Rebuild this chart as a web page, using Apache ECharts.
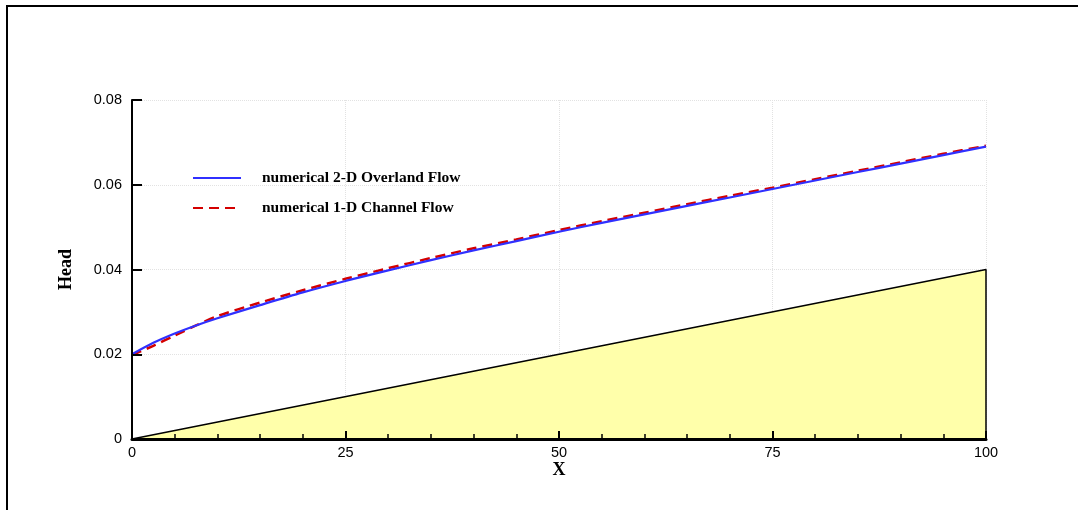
<!DOCTYPE html>
<html>
<head>
<meta charset="utf-8">
<script src="https://cdn.jsdelivr.net/npm/echarts@6/dist/echarts.min.js"></script>
<style>
html,body{margin:0;padding:0;background:#fff;}
#chart{width:1078px;height:510px;}
</style>
</head>
<body>
<div id="chart"></div>
<script>
// Data
const xValues = [0, 2.5, 5, 7.5, 10, 15, 20, 25, 30, 35, 40, 45, 50, 55, 60, 65, 70, 75, 80, 85, 90, 95, 100];
const overland2D = [0.0200, 0.0227, 0.0249, 0.0268, 0.0285, 0.0316, 0.0346, 0.0373, 0.0398, 0.0422, 0.0445, 0.0467, 0.0489, 0.0510, 0.0530, 0.0550, 0.0570, 0.0590, 0.0610, 0.0630, 0.0650, 0.0670, 0.0690];
const channel1D = [0.0198, 0.0220, 0.0244, 0.0268, 0.0290, 0.0322, 0.0351, 0.0378, 0.0403, 0.0427, 0.0450, 0.0471, 0.0493, 0.0514, 0.0534, 0.0554, 0.0574, 0.0593, 0.0613, 0.0633, 0.0653, 0.0673, 0.0692];
const bedX = [0, 100, 100];
const bedY = [0, 0.04, 0];
const seriesNames = ['numerical 2-D Overland Flow', 'numerical 1-D Channel Flow'];

const zip = (xs, ys) => xs.map((x, i) => [x, ys[i]]);

const chart = echarts.init(document.getElementById('chart'), null, {renderer: 'canvas'});
const gridLine = {show: true, lineStyle: {color: '#e2e2e2', type: 'dotted', width: 1}};
const option = {
  backgroundColor: '#ffffff',
  animation: false,
  graphic: [{
    type: 'rect',
    shape: {x: 7, y: 6, width: 1200, height: 600},
    style: {fill: 'none', stroke: '#000', lineWidth: 2},
    silent: true, z: 100
  }],
  grid: {left: 132, right: 92, top: 100, bottom: 71, containLabel: false},
  legend: {
    orient: 'vertical',
    left: 187,
    top: 165,
    itemWidth: 48,
    itemHeight: 14,
    itemGap: 14,
    data: seriesNames,
    itemStyle: {opacity: 0},
    textStyle: {fontFamily: 'Liberation Serif', fontWeight: 'bold', fontSize: 15.5, color: '#000', padding: [0, 0, 0, 16]}
  },
  xAxis: [{
    type: 'value', min: 0, max: 100, interval: 25, z: 10,
    name: 'X', nameLocation: 'middle', nameGap: 22, nameMoveOverlap: false,
    nameTextStyle: {fontFamily: 'Liberation Serif', fontWeight: 'bold', fontSize: 18, color: '#000'},
    axisLine: {show: true, onZero: false, lineStyle: {color: '#000', width: 3}},
    axisTick: {show: true, inside: true, length: 8, lineStyle: {color: '#000', width: 2}},
    minorTick: {show: true, splitNumber: 5, length: 5, lineStyle: {color: '#000', width: 1.5}},
    axisLabel: {margin: 6, fontFamily: 'Liberation Sans', fontSize: 14.5, color: '#000'},
    splitLine: {show: false}
  }, {
    type: 'value', min: 0, max: 100, interval: 25, z: 0, position: 'bottom',
    axisLine: {show: false}, axisTick: {show: false}, axisLabel: {show: false},
    splitLine: gridLine
  }],
  yAxis: [{
    type: 'value', min: 0, max: 0.08, interval: 0.02, z: 10,
    name: 'Head', nameLocation: 'middle', nameGap: 57, nameMoveOverlap: false,
    nameTextStyle: {fontFamily: 'Liberation Serif', fontWeight: 'bold', fontSize: 18, color: '#000'},
    axisLine: {show: true, onZero: false, lineStyle: {color: '#000', width: 2}},
    axisTick: {show: true, inside: true, length: 10, lineStyle: {color: '#000', width: 2}},
    axisLabel: {margin: 10, fontFamily: 'Liberation Sans', fontSize: 14.5, color: '#000',
      formatter: v => v === 0 ? '0' : v.toFixed(2)},
    splitLine: {show: false}
  }, {
    type: 'value', min: 0, max: 0.08, interval: 0.02, z: 0, position: 'left',
    axisLine: {show: false}, axisTick: {show: false}, axisLabel: {show: false},
    splitLine: gridLine
  }],
  series: [
    {
      name: 'bed', type: 'line', data: zip(bedX, bedY), symbol: 'none',
      lineStyle: {color: '#000', width: 1.5},
      areaStyle: {color: '#ffffaa', opacity: 1},
      z: 1
    },
    {
      name: seriesNames[1], type: 'line', data: zip(xValues, channel1D), symbol: 'none', smooth: 0.3,
      itemStyle: {color: '#d40000'},
      lineStyle: {color: '#d40000', width: 2.5, type: [10, 6]},
      z: 3
    },
    {
      name: seriesNames[0], type: 'line', data: zip(xValues, overland2D), symbol: 'none', smooth: 0.3,
      itemStyle: {color: '#3030ff'},
      lineStyle: {color: '#3030ff', width: 2.2},
      z: 4
    }
  ]
};
chart.setOption(option);
</script>
</body>
</html>
